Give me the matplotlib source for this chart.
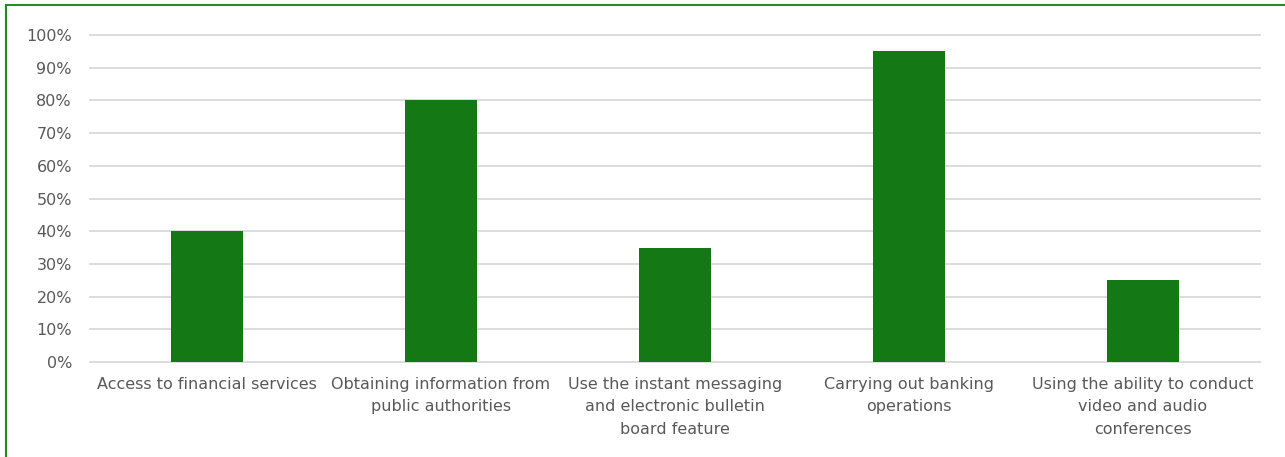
import matplotlib
matplotlib.use("Agg")
import matplotlib.pyplot as plt
from matplotlib.patches import Rectangle
from matplotlib.ticker import FuncFormatter, MultipleLocator

categories = [
    "Access to financial services",
    "Obtaining information from\npublic authorities",
    "Use the instant messaging\nand electronic bulletin\nboard feature",
    "Carrying out banking\noperations",
    "Using the ability to conduct\nvideo and audio\nconferences",
]
values = [40, 80, 35, 95, 25]

plt.rcParams['font.family'] = ['DejaVu Sans']
fig = plt.figure(figsize=(12.85, 4.57), dpi=100)
ax = fig.add_axes([90/1285, 1-362/457, 1170/1285, (362-35)/457])

x = range(len(categories))
ax.bar(x, values, width=0.31, color="#147814", zorder=3)
ax.set_xlim(-0.5, len(categories)-0.5)
ax.set_ylim(0, 100)
ax.yaxis.set_major_locator(MultipleLocator(10))
ax.yaxis.set_major_formatter(FuncFormatter(lambda v, p: f"{int(v)}%"))
ax.grid(axis='y', color="#d9d9d9", linewidth=1.3, zorder=0)
for gl in ax.get_ygridlines():
    gl.set_clip_on(False)
ax.set_xticks(list(x))
ax.set_xticklabels(categories, fontsize=11.5, color="#595959", linespacing=1.6)
ax.tick_params(axis='y', labelsize=11.5, labelcolor="#595959", length=0, pad=13)
ax.tick_params(axis='x', length=0, pad=11)
for s in ax.spines.values():
    s.set_visible(False)

fig.patches.append(Rectangle((6/1285, -0.1), 1.2, 1.1 - 5/457, transform=fig.transFigure,
                             fill=False, edgecolor="#228B22", linewidth=1.5))
fig.savefig("out.png", dpi=100)
